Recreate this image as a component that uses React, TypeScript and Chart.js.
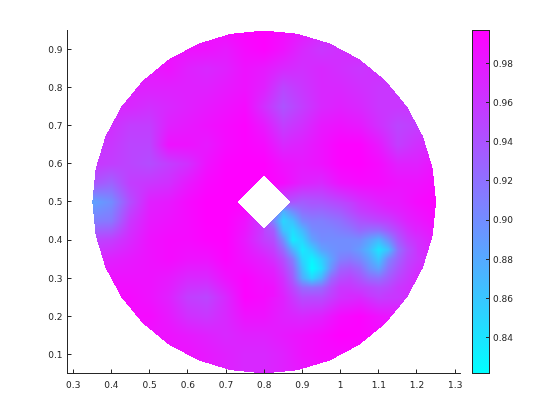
import React, { useEffect, useRef } from "react";
import { Chart, registerables } from "chart.js";

Chart.register(...registerables);

const xTicks = [0.3, 0.4, 0.5, 0.6, 0.7, 0.8, 0.9, 1, 1.1, 1.2, 1.3];
const yTicks = [0.1, 0.2, 0.3, 0.4, 0.5, 0.6, 0.7, 0.8, 0.9];
const colorTicks = [0.84, 0.86, 0.88, 0.9, 0.92, 0.94, 0.96, 0.98];

const gridX = [0.35, 0.4, 0.45, 0.5, 0.55, 0.6, 0.65, 0.7, 0.75, 0.8, 0.85, 0.9, 0.95, 1, 1.05, 1.1, 1.15, 1.2, 1.25];
const gridY = [0.95, 0.9, 0.85, 0.8, 0.75, 0.7, 0.65, 0.6, 0.55, 0.5, 0.45, 0.4, 0.35, 0.3, 0.25, 0.2, 0.15, 0.1, 0.05];
const gridValues = [
  [.98, .98, .98, .98, .98, .98, .985, .99, .995, .997, .99, .98, .97, .97, .97, .97, .97, .97, .97],
  [.98, .98, .98, .98, .985, .985, .985, .98, .99, .995, .985, .97, .96, .965, .97, .97, .97, .97, .97],
  [.98, .98, .98, .98, .985, .975, .97, .975, .985, .98, .97, .965, .97, .965, .96, .965, .965, .965, .965],
  [.975, .975, .975, .975, .975, .975, .975, .98, .985, .975, .95, .96, .97, .97, .965, .96, .96, .96, .96],
  [.97, .97, .97, .965, .97, .975, .98, .985, .99, .965, .94, .955, .97, .975, .97, .96, .96, .96, .96],
  [.965, .965, .955, .955, .975, .98, .985, .99, .995, .98, .955, .965, .98, .985, .98, .965, .95, .955, .96],
  [.96, .96, .95, .95, .985, .985, .98, .99, .995, .99, .97, .975, .985, .995, .995, .98, .955, .965, .97],
  [.96, .955, .95, .945, .955, .965, .985, .995, .997, .997, .985, .98, .985, .995, .997, .99, .975, .975, .985],
  [.94, .93, .955, .96, .965, .98, .992, .997, .997, .997, .99, .975, .97, .985, .99, .99, .985, .985, .99],
  [.885, .9, .945, .975, .98, .99, .997, .997, .997, .97, .945, .935, .94, .95, .965, .975, .98, .99, .995],
  [.91, .915, .96, .98, .985, .99, .997, .997, .985, .955, .855, .9, .91, .92, .94, .95, .96, .98, .99],
  [.95, .955, .97, .985, .99, .99, .995, .997, .98, .955, .9, .86, .9, .9, .9, .87, .93, .965, .98],
  [.97, .975, .98, .985, .99, .985, .985, .995, .985, .975, .945, .855, .86, .91, .905, .86, .93, .96, .975],
  [.985, .985, .985, .985, .98, .97, .97, .985, .995, .985, .965, .885, .885, .945, .94, .92, .95, .97, .975],
  [.99, .99, .99, .985, .975, .955, .95, .97, .995, .99, .975, .945, .945, .965, .97, .955, .96, .97, .975],
  [.99, .99, .99, .99, .98, .965, .96, .97, .985, .985, .975, .97, .975, .99, .995, .985, .98, .98, .98],
  [.985, .985, .985, .985, .985, .98, .975, .97, .975, .975, .98, .985, .99, .997, .995, .99, .985, .985, .985],
  [.985, .985, .985, .985, .985, .985, .98, .975, .97, .97, .975, .985, .99, .99, .99, .99, .99, .99, .99],
  [.985, .985, .985, .985, .985, .985, .98, .975, .97, .97, .975, .98, .985, .985, .985, .985, .985, .985, .985],
];

const fineX = [0.8, 0.825, 0.85, 0.875, 0.9, 0.925, 0.95, 0.975, 1, 1.025, 1.05, 1.075, 1.1, 1.125, 1.15, 1.175, 1.2];
const fineY = [0.5, 0.475, 0.45, 0.425, 0.4, 0.375, 0.35, 0.325, 0.3, 0.275, 0.25];
const fineValues = [
  [.97, .96, .945, .94, .935, .94, .94, .945, .95, .955, .965, .97, .975, .98, .98, .985, .99],
  [.96, .925, .875, .9, .92, .925, .925, .93, .935, .945, .955, .96, .965, .97, .975, .98, .985],
  [.955, .905, .85, .865, .9, .91, .91, .915, .92, .93, .94, .945, .95, .955, .965, .975, .98],
  [.95, .935, .865, .845, .87, .9, .905, .905, .91, .915, .925, .92, .92, .935, .95, .965, .975],
  [.955, .945, .9, .835, .85, .885, .9, .9, .9, .9, .9, .885, .87, .9, .935, .955, .965],
  [.965, .955, .925, .875, .835, .855, .885, .895, .9, .9, .89, .87, .84, .865, .92, .945, .96],
  [.975, .965, .945, .91, .85, .83, .855, .885, .91, .915, .905, .885, .86, .905, .93, .95, .96],
  [.98, .975, .955, .925, .865, .822, .845, .895, .93, .935, .925, .9, .885, .92, .94, .955, .965],
  [.985, .98, .965, .935, .88, .85, .875, .925, .945, .95, .94, .925, .92, .935, .95, .96, .97],
  [.99, .985, .97, .95, .925, .92, .925, .945, .96, .96, .955, .95, .945, .95, .96, .965, .97],
  [.99, .985, .975, .96, .945, .945, .945, .955, .965, .97, .97, .96, .955, .96, .96, .965, .97],
];

const discCenter = [0.8, 0.5];
const discRadius = 0.45;
const discSides = 32;
const holeRadius = 0.07;
const colorRange = [0.8215, 0.997];
const xRange = [0.285, 1.3885];
const yRange = [0.05, 0.95];

const INK = "#262626";
const FONT = { family: "'DejaVu Sans'", size: 9 };

function cool(t: number): [number, number, number] {
  const c = Math.max(0, Math.min(1, t));
  return [Math.round(255 * c), Math.round(255 * (1 - c)), 255];
}

function insideMesh(x: number, y: number) {
  const dx = x - discCenter[0];
  const dy = y - discCenter[1];
  if (Math.abs(dx) + Math.abs(dy) < holeRadius) return false;
  const a = Math.atan2(dy, dx);
  const step = (2 * Math.PI) / discSides;
  const wedge = ((a % step) + step) % step - step / 2;
  const limit = (discRadius * Math.cos(step / 2)) / Math.cos(wedge);
  return Math.hypot(dx, dy) <= limit;
}

function bilinear(xs: number[], ys: number[], table: number[][], x: number, y: number) {
  const stepX = xs[1] - xs[0];
  const stepY = ys[0] - ys[1];
  const fx = Math.max(0, Math.min(xs.length - 1.0001, (x - xs[0]) / stepX));
  const fy = Math.max(0, Math.min(ys.length - 1.0001, (ys[0] - y) / stepY));
  const i = Math.floor(fx);
  const j = Math.floor(fy);
  const u = fx - i;
  const v = fy - j;
  return (
    table[j][i] * (1 - u) * (1 - v) +
    table[j][i + 1] * u * (1 - v) +
    table[j + 1][i] * (1 - u) * v +
    table[j + 1][i + 1] * u * v
  );
}

function sample(x: number, y: number) {
  const inFine = x >= fineX[0] && x <= fineX[fineX.length - 1] && y <= fineY[0] && y >= fineY[fineY.length - 1];
  return inFine ? bilinear(fineX, fineY, fineValues, x, y) : bilinear(gridX, gridY, gridValues, x, y);
}

const meshPlugin = {
  id: "mesh",
  beforeDraw(chart: any) {
    const { chartArea, scales } = chart;
    [scales.y, scales.cb].forEach((scale: any) => {
      scale.getLabelItems(chartArea).forEach((item: any) => {
        if (!item.shifted) {
          item.options.translation[1] += 1;
          item.shifted = true;
        }
      });
    });
  },
  beforeDatasetsDraw(chart: any) {
    const { ctx, chartArea, scales } = chart;
    const L = Math.floor(chartArea.left);
    const T = Math.floor(chartArea.top);
    const W = Math.ceil(chartArea.right) - L;
    const H = Math.ceil(chartArea.bottom) - T;
    const off = document.createElement("canvas");
    off.width = W;
    off.height = H;
    const octx = off.getContext("2d")!;
    const img = octx.createImageData(W, H);
    for (let py = 0; py < H; py++) {
      const y = scales.y.getValueForPixel(T + py + 0.5);
      for (let px = 0; px < W; px++) {
        const x = scales.x.getValueForPixel(L + px + 0.5);
        if (!insideMesh(x, y)) continue;
        const t = (sample(x, y) - colorRange[0]) / (colorRange[1] - colorRange[0]);
        const [r, g, b] = cool(t);
        const k = (py * W + px) * 4;
        img.data[k] = r;
        img.data[k + 1] = g;
        img.data[k + 2] = b;
        img.data[k + 3] = 255;
      }
    }
    octx.putImageData(img, 0, 0);
    ctx.drawImage(off, L, T);
  },
  afterDraw(chart: any) {
    const { ctx, chartArea, scales } = chart;
    const barLeft = scales.x.getPixelForValue(1.3465);
    const axisEnd = scales.x.getPixelForValue(1.315);
    const top = scales.cb.getPixelForValue(colorRange[1]);
    const bottom = scales.cb.getPixelForValue(colorRange[0]);
    const grad = ctx.createLinearGradient(0, bottom, 0, top);
    const stops = 16;
    for (let i = 0; i <= stops; i++) {
      const [r, g, b] = cool(i / stops);
      grad.addColorStop(i / stops, `rgb(${r},${g},${b})`);
    }
    ctx.save();
    ctx.fillStyle = grad;
    ctx.fillRect(barLeft, top, chartArea.right - barLeft, bottom - top);
    ctx.strokeStyle = INK;
    ctx.lineWidth = 1;
    const snap = (v: number) => Math.round(v - 0.5) + 0.5;
    const line = (x0: number, y0: number, x1: number, y1: number) => {
      ctx.beginPath();
      ctx.moveTo(x0, y0);
      ctx.lineTo(x1, y1);
      ctx.stroke();
    };
    const ax = snap(chartArea.left);
    const ay = snap(chartArea.bottom);
    const at = snap(chartArea.top);
    line(ax, at - 0.5, ax, ay + 0.5);
    line(ax - 0.5, ay, axisEnd, ay);
    xTicks.forEach((v) => {
      const p = snap(scales.x.getPixelForValue(v));
      line(p, ay, p, ay - 4);
    });
    yTicks.forEach((v) => {
      const p = snap(scales.y.getPixelForValue(v));
      line(ax, p, ax + 4, p);
    });
    const bl = snap(barLeft);
    const br = snap(chartArea.right);
    ctx.strokeRect(bl, at, br - bl, ay - at);
    colorTicks.forEach((v) => {
      const p = snap(scales.cb.getPixelForValue(v));
      line(br, p, br - 3.5, p);
    });
    ctx.restore();
  },
};

const fixedTicks = (values: number[]) => (scale: any) => {
  scale.ticks = values.map((value) => ({ value }));
};

export default function App() {
  const ref = useRef<HTMLCanvasElement>(null);
  useEffect(() => {
    const points: { x: number; y: number; v: number }[] = [];
    gridY.forEach((y, j) => gridX.forEach((x, i) => points.push({ x, y, v: gridValues[j][i] })));
    fineY.forEach((y, j) => fineX.forEach((x, i) => points.push({ x, y, v: fineValues[j][i] })));
    const chart = new Chart(ref.current!, {
      type: "scatter",
      data: { datasets: [{ label: "mesh", data: points, pointRadius: 0, pointHoverRadius: 0 }] },
      plugins: [meshPlugin],
      options: {
        animation: false,
        responsive: false,
        layout: { padding: { top: 30.5, left: 0, right: 0, bottom: 0 } },
        plugins: { legend: { display: false }, tooltip: { enabled: false } },
        scales: {
          x: {
            type: "linear",
            min: xRange[0],
            max: xRange[1],
            grid: { display: false, drawTicks: false },
            border: { display: false },
            afterBuildTicks: fixedTicks(xTicks),
            afterFit: (s: any) => { s.height = 46.5; },
            ticks: { font: FONT, color: INK, padding: 7, maxRotation: 0, autoSkip: false, callback: (v: any) => String(v) },
          },
          y: {
            type: "linear",
            position: "left",
            min: yRange[0],
            max: yRange[1],
            grid: { display: false, drawTicks: false },
            border: { display: false },
            afterBuildTicks: fixedTicks(yTicks),
            afterFit: (s: any) => { s.width = 67.5; },
            ticks: { font: FONT, color: INK, padding: 5, autoSkip: false, callback: (v: any) => String(v) },
          },
          cb: {
            type: "linear",
            position: "right",
            min: colorRange[0],
            max: colorRange[1],
            grid: { display: false, drawTicks: false },
            border: { display: false },
            afterBuildTicks: fixedTicks(colorTicks),
            afterFit: (s: any) => { s.width = 71; },
            ticks: { font: FONT, color: INK, padding: 4, autoSkip: false, callback: (v: any) => Number(v).toFixed(2) },
          },
        },
      } as any,
    });
    return () => chart.destroy();
  }, []);
  return (
    <div style={{ position: "absolute", left: 0, top: 0, width: 560, height: 420, background: "#fff" }}>
      <canvas ref={ref} width={560} height={420} style={{ display: "block" }} />
    </div>
  );
}
